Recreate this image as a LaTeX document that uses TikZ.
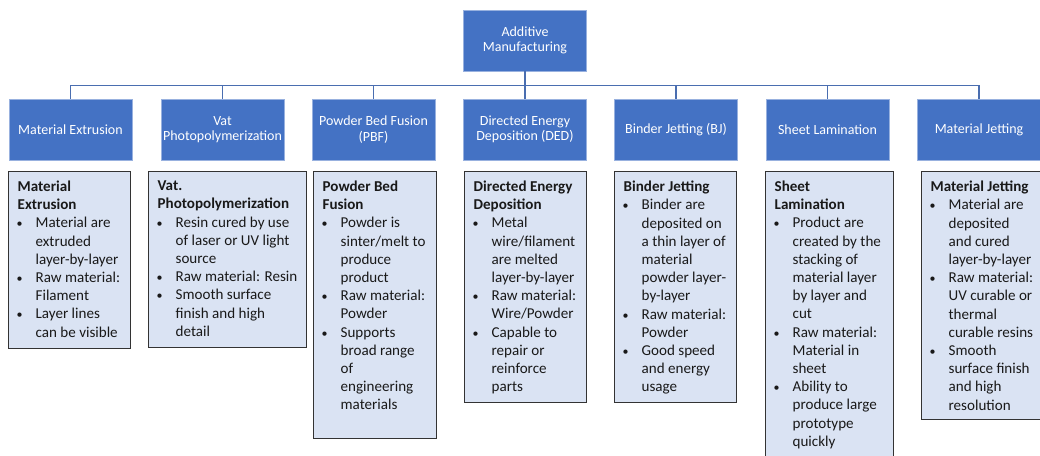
\documentclass[tikz,border=0pt]{standalone}
\usepackage{fontspec}
\setmainfont{Carlito}
\usepackage{tikz}
\definecolor{amblue}{HTML}{4472C4}
\definecolor{amlight}{HTML}{DAE3F3}
\definecolor{amlink}{HTML}{4A6EB0}
\usetikzlibrary{positioning}
\tikzstyle{link} = [draw=amlink, line width=1.1pt]

% bullet line with hanging indent
\newcommand{\bp}[1]{\par\hangindent=13.5pt\hangafter=1\noindent\hbox to 13.5pt{\hskip-0.8pt{\small\textbullet}\hfil}#1}
% top aligned text block of fixed size
\newcommand{\cardtext}[3]{\begin{minipage}[t][#2][t]{#1}\raggedright #3\end{minipage}}

\begin{document}
\begin{tikzpicture}[x=0.75pt, y=-0.75pt]
                    \tikzstyle{every node}=[font=\fontsize{10.5}{11.5}\selectfont] \tikzstyle{cat} =
                    [rectangle, draw=amblue!55!white, line width=0.6pt, fill=amblue, text=white,
                    minimum width=92.25pt, minimum height=45.75pt, align=center, inner sep=1pt] \tikzstyle{card} =
                    [rectangle, draw=black!80, line width=1pt, fill=amlight, text=black!90,
                    anchor=north west, inner xsep=6.75pt, inner ysep=7pt, font=\fontsize{11.3}{13.65}\selectfont]

    \useasboundingbox (0,0) rectangle (1040,455);

                    % process categories
                    \node[cat](am) at (525,40.5) {Additive\\Manufacturing};
                    \node[cat](mex) at (70.5,129.5) {Material Extrusion};
                    \node[cat](vat) at (222.5,129.5) {Vat\\Photopolymerization};
                    \node[cat](pbf) at (373.5,129.5) {Powder Bed Fusion\\(PBF)};
                    \node[cat](ded) at (525,129.5) {Directed Energy\\Deposition (DED)};
                    \node[cat](bj) at (676,129.5) {Binder Jetting (BJ)};
                    \node[cat](sl) at (827.5,129.5) {Sheet Lamination};
                    \node[cat](mj) at (979,129.5) {Material Jetting};

                    \draw[link] (am.south) -- ++(0,14) -| (mex.north);
                    \draw[link] (am.south) -- ++(0,14) -| (vat.north);
                    \draw[link] (am.south) -- ++(0,14) -| (pbf.north);
                    \draw[link] (am.south) -- (ded.north);
                    \draw[link] (am.south) -- ++(0,14) -| (bj.north);
                    \draw[link] (am.south) -- ++(0,14) -| (sl.north);
                    \draw[link] (am.south) -- ++(0,14) -| (mj.north);

                    % descriptions
                    \node[card](mexd) at (8,171) {\cardtext{78pt}{118.75pt}{%
                      \textbf{Material\\Extrusion}
                      \bp{Material are\newline extruded\newline layer-by-layer}
                      \bp{Raw material:\newline Filament}
                      \bp{Layer lines\newline can be visible}}};
                    \node[card](vatd) at (148,171) {\cardtext{105pt}{118pt}{%
                      \textbf{Vat.\\Photopolymerization}
                      \bp{Resin cured by use\newline of laser or UV light\newline source}
                      \bp{Raw material: Resin}
                      \bp{Smooth surface\newline finish and high\newline detail}}};
                    \node[card](pbfd) at (313,171) {\cardtext{78.75pt}{186.25pt}{%
                      \textbf{Powder Bed\\Fusion}
                      \bp{Powder is\newline sinter/melt to\newline produce\newline product}
                      \bp{Raw material:\newline Powder}
                      \bp{Supports\newline broad range\newline of\newline engineering\newline materials}}};
                    \node[card](dedd) at (464,171) {\cardtext{78pt}{159.25pt}{%
                      \textbf{Directed Energy\\Deposition}
                      \bp{Metal\newline wire/filament\newline are melted\newline layer-by-layer}
                      \bp{Raw material:\newline Wire/Powder}
                      \bp{Capable to\newline repair or\newline reinforce\newline parts}}};
                    \node[card](bjd) at (614,171) {\cardtext{78pt}{159.25pt}{%
                      \textbf{Binder Jetting}
                      \bp{Binder are\newline deposited on\newline a thin layer of\newline material\newline powder layer-\newline by-layer}
                      \bp{Raw material:\newline Powder}
                      \bp{Good speed\newline and energy\newline usage}}};
                    \node[card](sld) at (765,171) {\cardtext{82.5pt}{214pt}{%
                      \textbf{Sheet\\Lamination}
                      \bp{Product are\newline created by the\newline stacking of\newline material layer\newline by layer and\newline cut}
                      \bp{Raw material:\newline Material in\newline sheet}
                      \bp{Ability to\newline produce large\newline prototype\newline quickly}}};
                    \node[card](mjd) at (921,171) {\cardtext{78pt}{172pt}{%
                      \textbf{Material Jetting}
                      \bp{Material are\newline deposited\newline and cured\newline layer-by-layer}
                      \bp{Raw material:\newline UV curable or\newline thermal\newline curable resins}
                      \bp{Smooth\newline surface finish\newline and high\newline resolution}}};
        
            \end{tikzpicture}
\end{document}
